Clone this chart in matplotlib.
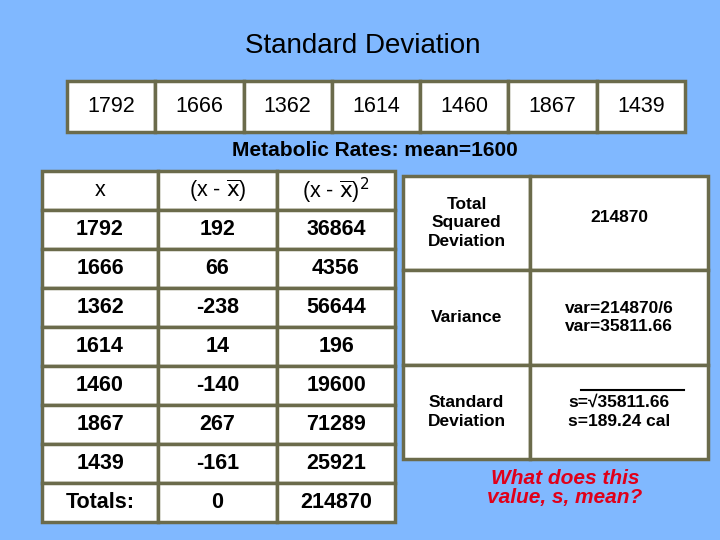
import matplotlib as mpl
mpl.use('Agg')
from matplotlib import pyplot as plt
from matplotlib.patches import Rectangle

plt.rcParams['font.family'] = ['Liberation Sans', 'DejaVu Sans']

rates = [1792, 1666, 1362, 1614, 1460, 1867, 1439]
mean = 1600
dev = [192, 66, -238, 14, -140, 267, -161]
sq = [36864, 4356, 56644, 196, 19600, 71289, 25921]
total_sq = 214870
headers = ['x', r'(x - $\overline{\mathrm{x}}$)', r'(x - $\overline{\mathrm{x}}$)$^2$']
right_labels = ['Total\nSquared\nDeviation', 'Variance', 'Standard\nDeviation']
right_values = ['214870', 'var=214870/6\nvar=35811.66', 's=\u221a35811.66\ns=189.24 cal']

bg = '#80b8ff'
edge = '#6b6b4b'

fig = plt.figure(figsize=(7.2, 5.4), dpi=100)
fig.patch.set_facecolor(bg)
ax = fig.add_axes([0, 0, 1, 1])
ax.set_xlim(0, 720)
ax.set_ylim(540, 0)
ax.axis('off')

ax.text(363, 46, 'Standard Deviation', ha='center', va='center', fontsize=20)

# row of boxes
bx0, bw = 67, (685 - 67) / len(rates)
for i, r in enumerate(rates):
    ax.add_patch(Rectangle((bx0 + i * bw, 81), bw, 51, fc='white', ec=edge, lw=2.5))
    ax.text(bx0 + (i + 0.5) * bw, 107, str(r), ha='center', va='center', fontsize=15.5)

ax.text(375, 150, f'Metabolic Rates: mean={mean}', ha='center', va='center',
        fontsize=15, fontweight='bold')

# left table
cols = [42, 158, 277, 395]
y0, rh = 171, (522 - 171) / 9
rows = [headers] + [[str(a), str(b), str(c)] for a, b, c in zip(rates, dev, sq)] \
    + [['Totals:', '0', str(total_sq)]]
for j, row in enumerate(rows):
    for k, val in enumerate(row):
        ax.add_patch(Rectangle((cols[k], y0 + j * rh), cols[k + 1] - cols[k], rh,
                               fc='white', ec=edge, lw=2.5))
        ax.text((cols[k] + cols[k + 1]) / 2, y0 + (j + 0.5) * rh, val,
                ha='center', va='center', fontsize=15.5,
                fontweight='normal' if j == 0 else 'bold')

# right table
rcols = [403, 530, 708]
rrows = [176, 270, 365, 459]
for j in range(3):
    for k, val in enumerate([right_labels[j], right_values[j]]):
        ax.add_patch(Rectangle((rcols[k], rrows[j]), rcols[k + 1] - rcols[k],
                               rrows[j + 1] - rrows[j], fc='white', ec=edge, lw=2.5))
        yc = (rrows[j] + rrows[j + 1]) / 2 + (-6 if (j == 0 and k == 1) else 0)
        ax.text((rcols[k] + rcols[k + 1]) / 2, yc, val, ha='center', va='center',
                fontsize=12.5, fontweight='bold', linespacing=1.3)
ax.plot([581, 684], [390, 390], color='black', lw=1.5)

ax.text(565, 488, 'What does this\nvalue, s, mean?', ha='center', va='center',
        fontsize=15, fontweight='bold', style='italic', color='#e0001a',
        linespacing=1.0)

plt.savefig('out.png', dpi=100, facecolor=bg)
